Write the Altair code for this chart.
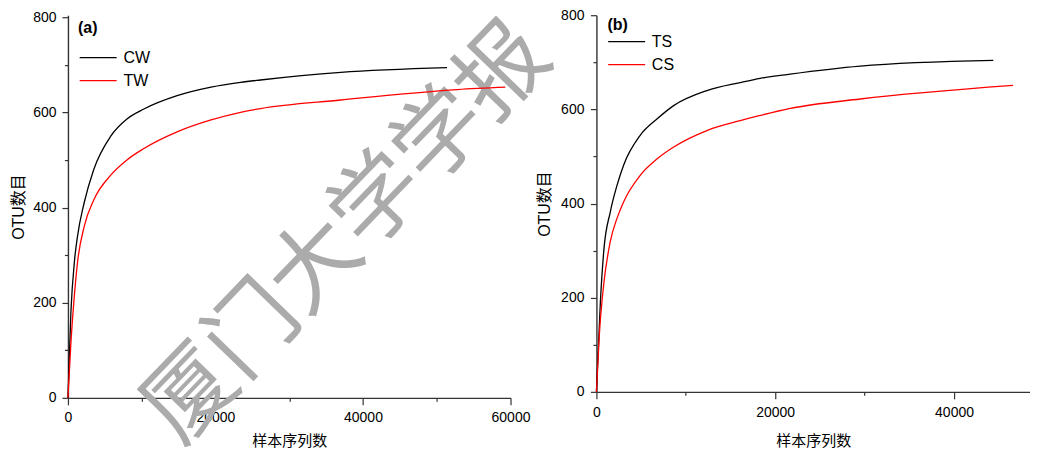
import altair as alt
import pandas as pd

# ---- data ----
cw_x = [0, 400, 900, 1300, 2200, 3500, 5800, 8000, 10300, 14800, 19400, 23400, 26100, 37000, 51400]
cw_y = [0, 180, 290, 340, 410, 480, 550, 586, 607, 635, 653, 663, 668, 684, 694]
tw_x = [0, 400, 900, 1300, 2200, 3500, 5800, 8000, 10300, 14800, 19400, 23400, 26100, 37000, 52800, 59300]
tw_y = [0, 115, 220, 285, 360, 416, 468, 500, 524, 559, 584, 600, 608, 626, 648, 653]

ts_x = [0, 450, 820, 1560, 2310, 3050, 4900, 6800, 8640, 12360, 16090, 18320, 21680, 29500, 44400]
ts_y = [0, 194, 299, 383, 439, 482, 545, 580, 608, 640, 657, 666, 675, 692, 704]
cs_x = [0, 335, 820, 1560, 2310, 3050, 4900, 6800, 8640, 12360, 16090, 18320, 21680, 29500, 46600]
cs_y = [0, 124, 229, 320, 369, 404, 460, 495, 520, 555, 576, 587, 602, 622, 651]

series_a = ["CW", "TW"]
series_b = ["TS", "CS"]
line_colors = ["#000000", "#ff0000"]

x_ticks_a = [0, 10000, 20000, 30000, 40000, 50000, 60000]
x_ticks_b = [0, 10000, 20000, 30000, 40000]
y_ticks = [0, 100, 200, 300, 400, 500, 600, 700, 800]

x_title = "样本序列数"
y_title = "OTU数目"
watermark_chars = ["厦", "门", "大", "学", "学", "报"]

FONT = "Liberation Sans, Noto Sans CJK SC"
AXC = "#333333"
LEG_SIZE = 342.25  # sqrt = 18.5 px; custom path spans 2x that


def make_df(names, xs_list, ys_list):
    rows = []
    for n, xs, ys in zip(names, xs_list, ys_list):
        for xv, yv in zip(xs, ys):
            rows.append({"series": n, "x": xv, "y": yv})
    return pd.DataFrame(rows)


def tick_size(step, major, minor):
    return {"condition": {"test": f"datum.value % {step} !== 0", "value": minor}, "value": major}


def x_axis(ticks, label_pad, title_pad):
    return alt.Axis(
        values=ticks, format="d",
        labelExpr="datum.value % 20000 === 0 ? datum.label : ''",
        tickSize=tick_size(20000, 7, 3.5), tickColor=AXC, tickWidth=1.2,
        domainColor=AXC, domainWidth=1.4, grid=False,
        labelFont=FONT, labelFontSize=14, labelColor="black", labelPadding=label_pad,
        labelFlush=False, labelOverlap=False,
        title=x_title, titleFont=FONT, titleFontSize=15, titleFontWeight="normal",
        titleColor="black", titlePadding=title_pad,
    )


def y_axis(label_pad, title_pad):
    return alt.Axis(
        values=y_ticks, format="d",
        labelExpr="datum.value % 200 === 0 ? datum.label : ''",
        tickSize=tick_size(200, 6, 3.5), tickColor=AXC, tickWidth=1.2,
        domainColor=AXC, domainWidth=1.4, grid=False,
        labelFont=FONT, labelFontSize=14, labelColor="black", labelPadding=label_pad,
        labelFlush=False, labelOverlap=False,
        title=y_title, titleFont=FONT, titleFontSize=16, titleFontWeight="normal",
        titleColor="black", titlePadding=title_pad,
    )


def panel(df, names, xdom, ticks, ydom, w, h, tag, tag_x, tag_y, leg_x, leg_y,
          xlp, xtp, ylp, ytp, extra=None):
    lines = alt.Chart(df).mark_line(strokeWidth=1.3, interpolate="monotone").encode(
        x=alt.X("x:Q", scale=alt.Scale(domain=xdom, nice=False, zero=False), axis=x_axis(ticks, xlp, xtp)),
        y=alt.Y("y:Q", scale=alt.Scale(domain=ydom, nice=False, zero=False), axis=y_axis(ylp, ytp)),
        color=alt.Color("series:N", scale=alt.Scale(domain=names, range=line_colors),
                        legend=alt.Legend(
                            orient="none", legendX=leg_x, legendY=leg_y, title=None,
                            symbolType="M-2,0L2,0", symbolSize=LEG_SIZE, symbolStrokeWidth=1.3,
                            labelFont=FONT, labelFontSize=16, labelColor="black",
                            labelOffset=15.25, padding=0, rowPadding=5,
                        )),
        detail="series:N",
    )
    label = alt.Chart(pd.DataFrame({"t": [tag]})).mark_text(
        align="left", baseline="middle", font=FONT, fontSize=16, fontWeight="bold", color="black"
    ).encode(text="t:N", x=alt.value(tag_x), y=alt.value(tag_y))
    layers = (extra if extra is not None else []) + [lines, label]
    return alt.layer(*layers).properties(width=w, height=h)


df_a = make_df(series_a, [cw_x, tw_x], [cw_y, tw_y])
df_b = make_df(series_b, [ts_x, cs_x], [ts_y, cs_y])

# diagonal watermark, one glyph per text mark
wm_layers = []
x0, y0, dx, dy = 124.0, 381.0, 62.5, -64.7
for i, ch in enumerate(watermark_chars):
    wm_layers.append(
        alt.Chart(pd.DataFrame({"t": [ch]})).mark_text(
            align="center", baseline="middle", angle=314, font="Noto Sans CJK SC",
            fontSize=90, color="#ababab"
        ).encode(text="t:N", x=alt.value(x0 + i * dx), y=alt.value(y0 + i * dy))
    )

pa = panel(df_a, series_a, [0, 60000], x_ticks_a, [0, 804.2], 443, 383, "(a)", 10, 12.5,
           20.25, 32.4, 5.5, 9.5, 6, 6, extra=wm_layers)
pb = panel(df_b, series_b, [0, 48500], x_ticks_b, [0, 800], 434, 377, "(b)", 11, 10,
           20.25, 16.4, 6.5, 14.5, 6.5, 8)

chart = alt.hconcat(pa, pb, spacing=86, bounds="flush").resolve_scale(
    color="independent"
).properties(
    padding={"left": 2, "top": 0, "right": 0, "bottom": 0},
    background="white",
).configure_view(stroke=None)

chart.save("out.html", embed_options={"renderer": "svg", "actions": False})
